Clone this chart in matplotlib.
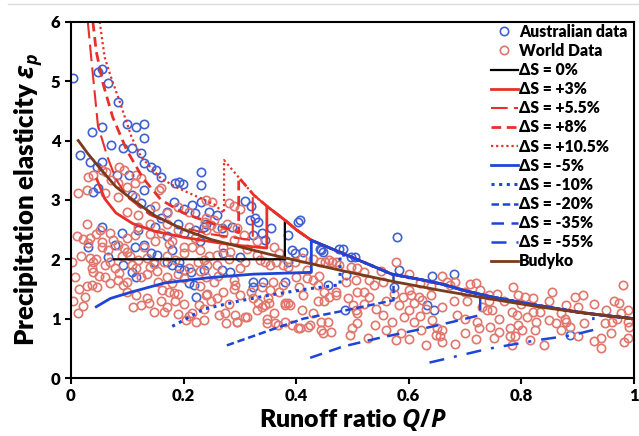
import matplotlib
matplotlib.use("Agg")
import matplotlib.pyplot as plt
from matplotlib.lines import Line2D

plt.rcParams['font.family'] = ['Lato', 'DejaVu Sans']
plt.rcParams['font.weight'] = 'bold'
plt.rcParams['mathtext.fontset'] = 'custom'
plt.rcParams['mathtext.it'] = 'Open Sans:italic:bold'
plt.rcParams['mathtext.rm'] = 'Open Sans:bold'
plt.rcParams['mathtext.bf'] = 'Open Sans:bold'

# ---------------- observations ----------------
aus_x = [0.004, 0.048, 0.056, 0.065, 0.083, 0.037, 0.056, 0.10, 0.116, 0.13, 0.13, 0.072, 0.092, 0.108,
         0.016, 0.125, 0.034, 0.056, 0.046, 0.13, 0.143, 0.152, 0.16, 0.081, 0.104, 0.185, 0.192, 0.199,
         0.231, 0.231, 0.048, 0.039, 0.13, 0.108, 0.125, 0.183, 0.215, 0.231, 0.14, 0.17, 0.2, 0.22,
         0.245, 0.26, 0.31, 0.32, 0.407,
         0.03, 0.065, 0.078, 0.113, 0.13, 0.143, 0.148, 0.153, 0.092, 0.108, 0.116, 0.171, 0.18, 0.192,
         0.192, 0.2, 0.213, 0.21, 0.219, 0.222, 0.09, 0.12, 0.15, 0.17, 0.19, 0.2, 0.22, 0.24, 0.055,
         0.16, 0.23, 0.18,
         0.236, 0.268, 0.286, 0.318, 0.327, 0.333, 0.356, 0.324, 0.339, 0.345, 0.386, 0.392, 0.398, 0.412,
         0.445, 0.477, 0.268, 0.283, 0.324, 0.324, 0.342, 0.38, 0.271, 0.3, 0.236, 0.386, 0.442, 0.448,
         0.498, 0.457, 0.404,
         0.58, 0.483, 0.504, 0.489, 0.583, 0.574, 0.642, 0.68, 0.633, 0.645, 0.486, 0.886]
aus_y = [5.05, 5.15, 5.2, 4.97, 4.65, 4.14, 4.23, 4.28, 4.23, 4.28, 4.04, 3.92, 3.87, 3.87,
         3.75, 3.79, 3.64, 3.64, 3.55, 3.62, 3.55, 3.5, 3.38, 3.42, 3.42, 3.28, 3.3, 3.27,
         3.47, 3.25, 3.2, 3.13, 3.17, 3.08, 2.95, 2.96, 2.91, 2.96, 2.85, 2.8, 2.85, 2.78,
         2.8, 2.75, 2.98, 2.9, 2.66,
         2.2, 2.04, 2.24, 2.2, 2.24, 2.1, 1.95, 2.07, 1.9, 1.78, 1.7, 1.95, 1.9, 1.95,
         1.85, 1.82, 1.78, 1.6, 1.57, 1.36, 2.45, 2.5, 2.55, 2.4, 2.6, 2.45, 2.5, 2.6, 2.55,
         2.7, 2.3, 2.15,
         2.55, 2.52, 2.55, 2.66, 2.69, 2.63, 2.52, 2.41, 2.44, 2.32, 2.41, 2.15, 2.1, 2.13,
         2.15, 2.18, 1.82, 1.79, 1.62, 1.54, 1.62, 1.62, 2.1, 2.04, 1.82, 1.96, 2.18, 2.13,
         2.04, 1.57, 2.63,
         2.38, 2.18, 2.04, 1.73, 1.82, 1.54, 1.71, 1.76, 1.23, 1.14, 1.14, 0.72]

world_x = [0.03, 0.039, 0.012, 0.028, 0.055, 0.063, 0.086, 0.095, 0.072, 0.083, 0.116, 0.125, 0.1, 0.113,
           0.06, 0.083, 0.113, 0.16, 0.157, 0.24, 0.25, 0.1, 0.12, 0.15, 0.17, 0.19, 0.21, 0.24, 0.28,
           0.29, 0.30,
           0.028, 0.051, 0.021, 0.034, 0.03, 0.055, 0.056, 0.074, 0.083, 0.1, 0.113, 0.095, 0.099, 0.034,
           0.04, 0.045, 0.002, 0.037, 0.039, 0.06, 0.007, 0.028, 0.037, 0.046, 0.025, 0.021, 0.004, 0.012,
           0.078, 0.086, 0.083, 0.092, 0.099, 0.108, 0.116, 0.125, 0.135, 0.148, 0.14, 0.153, 0.125, 0.139,
           0.148, 0.162, 0.175, 0.183, 0.21, 0.222, 0.215, 0.236, 0.228, 0.165, 0.17, 0.18, 0.19, 0.2,
           0.21, 0.23, 0.24, 0.13, 0.15, 0.16, 0.18, 0.2, 0.22, 0.24, 0.12, 0.14, 0.17, 0.07, 0.21, 0.23,
           0.1, 0.115, 0.07, 0.06, 0.16, 0.19, 0.2, 0.24, 0.23, 0.263, 0.275, 0.295, 0.31,
           0.236, 0.242, 0.26, 0.283, 0.312, 0.33, 0.336, 0.345, 0.354, 0.365, 0.377, 0.386, 0.398, 0.41,
           0.43, 0.442, 0.459, 0.471, 0.254, 0.262, 0.271, 0.289, 0.292, 0.242, 0.248, 0.236, 0.339, 0.354,
           0.359, 0.377, 0.324, 0.333, 0.33, 0.345, 0.38, 0.389, 0.406, 0.412, 0.439, 0.439, 0.45, 0.459,
           0.471, 0.471, 0.274, 0.292, 0.312, 0.295, 0.348, 0.362, 0.368, 0.348, 0.404, 0.424, 0.445, 0.456,
           0.462, 0.445, 0.239, 0.248, 0.26, 0.271, 0.254, 0.277, 0.295, 0.307, 0.289, 0.271, 0.339, 0.351,
           0.381, 0.386, 0.392, 0.407, 0.421, 0.448, 0.451, 0.463, 0.477, 0.419, 0.43,
           0.498, 0.509, 0.577, 0.489, 0.506, 0.53, 0.539, 0.554, 0.509, 0.521, 0.53, 0.492, 0.501, 0.506,
           0.509, 0.509, 0.495, 0.527, 0.559, 0.577, 0.586, 0.589, 0.601, 0.604, 0.618, 0.609, 0.624, 0.63,
           0.592, 0.609, 0.621, 0.642, 0.651, 0.656, 0.659, 0.648, 0.659, 0.668, 0.674, 0.683, 0.686, 0.683,
           0.639, 0.703, 0.709, 0.721, 0.724, 0.742, 0.739, 0.727, 0.574, 0.583, 0.542, 0.554,
           0.786, 0.742, 0.757, 0.795, 0.807, 0.854, 0.895, 0.91, 0.98, 0.965, 0.974, 0.989, 0.977, 0.748,
           0.76, 0.745, 0.783, 0.792, 0.801, 0.795, 0.821, 0.827, 0.824, 0.751, 0.78, 0.783, 0.789, 0.815,
           0.833, 0.862, 0.88, 0.877, 0.886, 0.912, 0.948, 0.962, 0.942, 0.942, 0.983, 0.992, 0.871,
           0.010, 0.018, 0.045, 0.065, 0.050, 0.015, 0.070, 0.090,
           0.105, 0.120, 0.135, 0.155, 0.170, 0.185, 0.200, 0.215, 0.225, 0.245, 0.175, 0.140, 0.190,
           0.110, 0.135, 0.170, 0.185, 0.190, 0.205, 0.165,
           0.260, 0.280, 0.300, 0.310, 0.330, 0.360, 0.370, 0.300, 0.320, 0.350, 0.370, 0.400, 0.420,
           0.440, 0.260, 0.280, 0.290, 0.410, 0.430, 0.450, 0.360, 0.380,
           0.520, 0.550, 0.600, 0.620, 0.640, 0.700, 0.720, 0.520, 0.560, 0.600, 0.620, 0.660, 0.680,
           0.700, 0.730, 0.500, 0.540, 0.570, 0.600, 0.630, 0.660, 0.700, 0.720,
           0.770, 0.800, 0.820, 0.850, 0.870, 0.900, 0.930, 0.950, 0.970, 0.990, 0.780, 0.810, 0.850,
           0.900, 0.930, 0.960, 0.990, 0.760, 0.840, 0.880]
world_y = [3.38, 3.42, 3.11, 3.17, 3.5, 3.47, 3.55, 3.5, 3.33, 3.28, 3.42, 3.37, 3.22, 3.28,
           3.11, 3.05, 3.05, 3.2, 3.17, 3.0, 2.96, 2.8, 2.75, 2.9, 2.78, 2.88, 2.8, 2.7, 2.95,
           2.9, 2.85,
           2.6, 2.5, 2.34, 2.36, 2.27, 2.29, 2.2, 2.32, 2.24, 2.36, 2.41, 2.19, 2.12, 2.02,
           1.95, 2.0, 1.95, 1.85, 1.78, 1.9, 1.7, 1.55, 1.57, 1.53, 1.36, 1.22, 1.3, 1.09,
           1.85, 1.77, 1.65, 1.57, 1.62, 1.9, 1.85, 1.7, 2.02, 1.92, 1.87, 1.8, 1.23, 1.26,
           1.11, 1.48, 1.45, 1.43, 1.05, 0.95, 1.1, 0.98, 1.23, 1.95, 1.7, 1.6, 1.75, 1.68,
           1.85, 1.8, 1.7, 2.2, 2.3, 2.45, 2.3, 2.2, 2.35, 2.5, 2.55, 2.6, 2.6, 2.45, 2.55, 2.15,
           1.45, 1.4, 1.6, 1.7, 1.3, 1.42, 1.25, 1.4, 1.55, 1.06, 0.93, 0.94, 1.03,
           1.99, 1.9, 2.07, 2.13, 2.18, 2.07, 1.99, 1.96, 1.9, 1.96, 1.9, 1.87, 1.96, 2.02,
           2.0, 1.96, 1.99, 1.96, 1.62, 1.71, 1.45, 1.65, 1.57, 1.42, 1.29, 1.17, 1.54, 1.48,
           1.62, 1.57, 1.34, 1.26, 1.14, 1.23, 1.23, 1.23, 1.54, 1.4, 1.57, 1.29, 1.29, 1.37,
           1.45, 1.4, 1.09, 1.06, 1.03, 0.95, 1.0, 0.92, 0.89, 0.92, 0.84, 0.89, 0.95, 0.95,
           0.78, 0.81, 2.63, 2.58, 2.52, 2.44, 2.66, 2.6, 2.52, 2.41, 2.32, 2.2, 1.2, 1.26,
           1.26, 1.26, 0.89, 0.84, 0.86, 0.76, 1.96, 1.96, 1.9, 1.68, 1.65,
           1.87, 1.85, 1.96, 1.62, 1.65, 1.65, 1.57, 1.62, 1.45, 1.45, 1.37, 1.34, 1.23, 1.14,
           1.09, 0.92, 0.72, 0.67, 0.81, 0.64, 0.75, 1.37, 1.48, 1.4, 1.37, 1.26, 1.31, 1.17,
           1.03, 0.95, 0.81, 0.98, 0.84, 0.7, 0.81, 0.72, 1.71, 1.62, 1.57, 1.62, 1.06, 0.58,
           1.4, 1.29, 1.59, 0.95, 0.84, 1.29, 1.14, 1.48, 1.42, 1.23, 1.17, 1.06,
           1.54, 1.4, 1.42, 1.4, 1.37, 1.45, 1.37, 1.4, 1.57, 1.29, 1.26, 1.14, 1.09, 1.14,
           1.0, 0.86, 1.12, 1.06, 0.81, 0.89, 1.12, 0.95, 0.81, 0.67, 0.7, 0.56, 0.7, 0.64,
           1.12, 0.92, 1.23, 1.0, 0.86, 0.92, 0.92, 0.95, 0.67, 0.5, 0.61, 0.86, 0.81,
           2.40, 2.05, 2.42, 2.15, 1.72, 1.50, 1.95, 2.05,
           2.05, 1.98, 1.75, 1.62, 2.05, 1.98, 2.10, 2.20, 1.95, 2.05, 2.25, 2.42, 2.50,
           1.20, 1.35, 1.20, 1.30, 1.08, 0.97, 1.12,
           1.90, 2.00, 1.85, 1.95, 2.30, 2.20, 2.10, 1.40, 1.45, 1.35, 1.45, 1.70, 1.82,
           1.72, 1.35, 1.25, 1.50, 1.15, 1.10, 1.45, 1.10, 0.95,
           1.78, 1.80, 1.75, 1.60, 1.55, 1.45, 1.60, 1.25, 1.30, 1.15, 1.05, 1.20, 1.30,
           1.00, 1.20, 0.85, 0.90, 0.95, 0.65, 0.55, 0.60, 0.75, 0.65,
           1.30, 1.25, 1.35, 1.30, 1.10, 1.20, 1.25, 1.15, 1.00, 0.95, 0.85, 1.02, 0.98,
           0.70, 0.62, 0.75, 0.68, 0.78, 0.55, 0.95]

# ---------------- model curves ----------------
# shared upper branch reached after each jump
env_x = [0.272, 0.298, 0.325, 0.35, 0.38, 0.40, 0.427, 0.46, 0.49, 0.53, 0.57, 0.62, 0.66, 0.70,
         0.75, 0.80, 0.85, 0.90, 0.95, 1.0]
env_y = [3.67, 3.38, 3.08, 2.88, 2.66, 2.50, 2.32, 2.19, 2.07, 1.91, 1.75, 1.66, 1.58, 1.47,
         1.36, 1.27, 1.19, 1.11, 1.05, 1.0]

ds0_x = [0.076, 0.15, 0.25, 0.38]
ds0_y = [2.0, 2.0, 2.0, 2.0]
ds0_top = 2.66

p3_x = [0.046, 0.06, 0.08, 0.11, 0.15, 0.2, 0.26, 0.3, 0.348]
p3_y = [3.35, 3.02, 2.78, 2.6, 2.47, 2.37, 2.28, 2.23, 2.19]
p3_top = 2.88

p55_x = [0.030, 0.037, 0.048, 0.065, 0.08, 0.10, 0.14, 0.19, 0.25, 0.323]
p55_y = [6.0, 5.3, 4.25, 3.72, 3.35, 3.05, 2.75, 2.55, 2.42, 2.32]
p55_top = 3.1

p8_x = [0.039, 0.045, 0.057, 0.074, 0.099, 0.127, 0.16, 0.2, 0.24, 0.298]
p8_y = [6.0, 5.5, 4.96, 4.4, 3.84, 3.38, 3.0, 2.78, 2.64, 2.45]
p8_top = 3.38

p105_x = [0.051, 0.06, 0.07, 0.085, 0.108, 0.125, 0.16, 0.19, 0.23, 0.255, 0.272]
p105_y = [6.0, 5.4, 5.1, 4.7, 4.05, 3.72, 3.36, 3.2, 3.03, 2.92, 2.78]
p105_top = 3.67

m5_x = [0.045, 0.07, 0.108, 0.166, 0.245, 0.325, 0.427]
m5_y = [1.2, 1.34, 1.45, 1.6, 1.69, 1.75, 1.78]
m5_top = 2.32

m10_x = [0.18, 0.236, 0.30, 0.355, 0.42, 0.478]
m10_y = [0.87, 1.16, 1.3, 1.40, 1.5, 1.57]
m10_top = 2.07

m20_x = [0.277, 0.355, 0.413, 0.483, 0.573]
m20_y = [0.55, 0.81, 1.0, 1.13, 1.31]
m20_top = 1.74

m35_x = [0.425, 0.483, 0.55, 0.62, 0.68, 0.727]
m35_y = [0.34, 0.53, 0.68, 0.82, 0.95, 1.06]
m35_top = 1.37

m55_x = [0.637, 0.70, 0.74, 0.83, 0.89, 0.928]
m55_y = [0.26, 0.40, 0.49, 0.64, 0.72, 0.81]
m55_top = 1.08

budyko_x = [0.013, 0.03, 0.05, 0.08, 0.11, 0.15, 0.2, 0.25, 0.3, 0.35, 0.41, 0.49, 0.57, 0.66,
            0.74, 0.83, 0.915, 1.0]
budyko_y = [4.0, 3.78, 3.55, 3.22, 3.0, 2.73, 2.5, 2.33, 2.21, 2.09, 1.96, 1.79, 1.63, 1.47,
            1.34, 1.2, 1.09, 1.0]


def with_jump(lx, ly, top):
    """Lower branch, vertical jump at its last x, then the shared upper branch."""
    xj = lx[-1]
    xs = list(lx) + [xj]
    ys = list(ly) + [top]
    for ex, ey in zip(env_x, env_y):
        if ex > xj + 1e-9:
            xs.append(ex)
            ys.append(ey)
    return xs, ys


RED = '#e8302a'
BLUE = '#1f45d6'
BROWN = '#7a3a1c'

fig = plt.figure(figsize=(6.39, 4.36), dpi=100)
ax = fig.add_axes([0.111, 0.133, 0.881, 0.817])

h_aus, = ax.plot(aus_x, aus_y, 'o', ls='none', mfc='none', mec='#3f61d2', mew=1.2, ms=6,
                 label='Australian data')
h_world, = ax.plot(world_x, world_y, 'o', ls='none', mfc='none', mec='#e0766c', mew=1.2, ms=6,
                   label='World Data')

curves = [
    (ds0_x, ds0_y, ds0_top, dict(color='black', ls='-', lw=1.6), 'ΔS = 0%'),
    (p3_x, p3_y, p3_top, dict(color=RED, ls='-', lw=2.0), 'ΔS = +3%'),
    (p55_x, p55_y, p55_top, dict(color=RED, ls=(0, (8, 3)), lw=1.5), 'ΔS = +5.5%'),
    (p8_x, p8_y, p8_top, dict(color=RED, ls=(0, (3.5, 2)), lw=2.0), 'ΔS = +8%'),
    (p105_x, p105_y, p105_top, dict(color=RED, ls=(0, (1, 1.3)), lw=1.6), 'ΔS = +10.5%'),
    (m5_x, m5_y, m5_top, dict(color=BLUE, ls='-', lw=2.0), 'ΔS = -5%'),
    (m10_x, m10_y, m10_top, dict(color=BLUE, ls=(0, (1, 1.5)), lw=2.2), 'ΔS = -10%'),
    (m20_x, m20_y, m20_top, dict(color=BLUE, ls=(0, (3, 1.5)), lw=1.8), 'ΔS = -20%'),
    (m35_x, m35_y, m35_top, dict(color=BLUE, ls=(0, (5, 3)), lw=1.8), 'ΔS = -35%'),
    (m55_x, m55_y, m55_top, dict(color=BLUE, ls=(0, (6, 4, 1.2, 4)), lw=1.8), 'ΔS = -55%'),
]
handles = [h_aus, h_world]
for lx, ly, top, style, lab in curves:
    xs, ys = with_jump(lx, ly, top)
    h, = ax.plot(xs, ys, label=lab, **style)
    handles.append(h)
h_bud, = ax.plot(budyko_x, budyko_y, color=BROWN, lw=2.0, label='Budyko')
handles.append(h_bud)

ax.set_xlim(0, 1)
ax.set_ylim(0, 6)
ax.set_xticks([0, 0.2, 0.4, 0.6, 0.8, 1.0])
ax.set_xticklabels(['0', '0.2', '0.4', '0.6', '0.8', '1'])
ax.set_yticks([0, 1, 2, 3, 4, 5, 6])
ax.tick_params(axis='both', direction='out', length=4, width=1.5, labelsize=12)
for lbl in ax.get_xticklabels() + ax.get_yticklabels():
    lbl.set_fontweight('heavy')
for s in ['left', 'bottom', 'top', 'right']:
    ax.spines[s].set_linewidth(1.5)
    ax.spines[s].set_color('black')

ax.set_xlabel(r'Runoff ratio $Q/P$', fontsize=18, fontweight='heavy', labelpad=2)
ax.set_ylabel(r'Precipitation elasticity $\varepsilon_p$', fontsize=18.5, fontweight='heavy',
              labelpad=4)

leg = ax.legend(handles=handles, loc='upper right', frameon=False,
                prop={'weight': 'heavy', 'size': 11.3}, numpoints=1, handlelength=1.7,
                handletextpad=0.1, labelspacing=0.2, borderaxespad=0.0,
                bbox_to_anchor=(1.0, 1.012))

fig.add_artist(Line2D([0.012, 1.0], [1 - 4.5 / 436, 1 - 4.5 / 436], color='#dcdcdc', lw=1.0))

fig.savefig('out.png', dpi=100)
